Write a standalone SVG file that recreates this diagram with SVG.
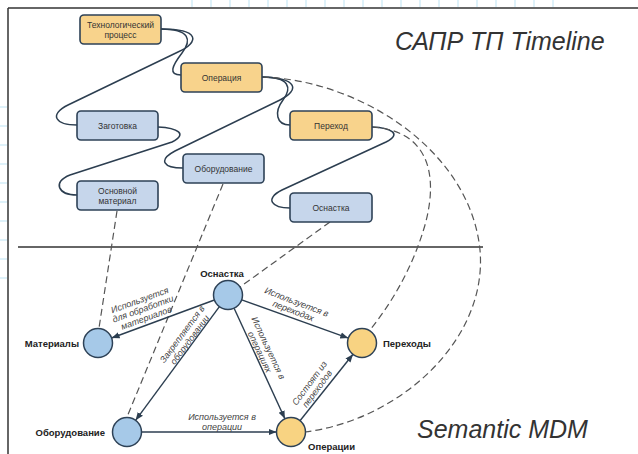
<svg xmlns="http://www.w3.org/2000/svg" width="638" height="454" viewBox="0 0 638 454">
<style>
.box{stroke:#2E4257;stroke-width:1.6}
.orange{fill:#F8D38C}
.blue{fill:#C6D6EB}
.ctext{font-family:"Liberation Sans",Arial,sans-serif;font-size:8.5px;fill:#333;text-anchor:middle}
.circ{stroke:#2E4257;stroke-width:1.5}
.cblue{fill:#A6C9E8}
.corange{fill:#F8D382}
.clabel{font-family:"Liberation Sans",Arial,sans-serif;font-size:9.5px;font-weight:bold;fill:#222}
.elabel{font-family:"Liberation Sans",Arial,sans-serif;font-size:9px;font-style:italic;fill:#444;text-anchor:middle}
.curve{fill:none;stroke:#2C3E50;stroke-width:1.5}
.dash{fill:none;stroke:#555;stroke-width:1.2;stroke-dasharray:7,4}
.edge{fill:none;stroke:#2C3E50;stroke-width:1.4;marker-end:url(#arr)}
.tick{stroke:#BDE3F3;stroke-width:1}
.title{font-family:"Liberation Sans",Arial,sans-serif;font-size:25px;font-style:italic;fill:#333}
</style>
<defs>
<marker id="arr" viewBox="0 0 10 10" refX="10" refY="5" markerWidth="8" markerHeight="8" markerUnits="userSpaceOnUse" orient="auto">
<path d="M0,1 L10,5 L0,9 z" fill="#2C3E50"/>
</marker>
</defs>
<rect width="638" height="454" fill="#fff"/>
<g id="grid">
<line class="tick" x1="192" y1="0" x2="192" y2="7"/><line class="tick" x1="211" y1="0" x2="211" y2="7"/><line class="tick" x1="230" y1="0" x2="230" y2="7"/><line class="tick" x1="249" y1="0" x2="249" y2="7"/><line class="tick" x1="268" y1="0" x2="268" y2="7"/><line class="tick" x1="287" y1="0" x2="287" y2="7"/><line class="tick" x1="306" y1="0" x2="306" y2="7"/><line class="tick" x1="325" y1="0" x2="325" y2="7"/><line class="tick" x1="344" y1="0" x2="344" y2="7"/><line class="tick" x1="363" y1="0" x2="363" y2="7"/><line class="tick" x1="382" y1="0" x2="382" y2="7"/><line class="tick" x1="401" y1="0" x2="401" y2="7"/><line class="tick" x1="420" y1="0" x2="420" y2="7"/><line class="tick" x1="439" y1="0" x2="439" y2="7"/><line class="tick" x1="458" y1="0" x2="458" y2="7"/><line class="tick" x1="477" y1="0" x2="477" y2="7"/><line class="tick" x1="496" y1="0" x2="496" y2="7"/><line class="tick" x1="515" y1="0" x2="515" y2="7"/><line class="tick" x1="534" y1="0" x2="534" y2="7"/><line class="tick" x1="553" y1="0" x2="553" y2="7"/>
<line class="tick" x1="0" y1="107" x2="7" y2="107"/><line class="tick" x1="0" y1="126" x2="7" y2="126"/><line class="tick" x1="0" y1="145" x2="7" y2="145"/><line class="tick" x1="0" y1="164" x2="7" y2="164"/><line class="tick" x1="0" y1="183" x2="7" y2="183"/><line class="tick" x1="0" y1="202" x2="7" y2="202"/><line class="tick" x1="0" y1="221" x2="7" y2="221"/><line class="tick" x1="0" y1="240" x2="7" y2="240"/><line class="tick" x1="0" y1="259" x2="7" y2="259"/><line class="tick" x1="0" y1="278" x2="7" y2="278"/>
</g>
<g id="frame" stroke="#333" stroke-width="1.5" fill="none">
<line x1="8" y1="8" x2="638" y2="8"/>
<line x1="8" y1="8" x2="8" y2="454"/>
<line x1="18" y1="247" x2="483" y2="247" stroke-width="1.3"/>
</g>
<text class="title" x="395" y="50">САПР ТП Timeline</text>
<text class="title" x="417" y="438">Semantic MDM</text>
<g id="connectors">
<path class="curve" d="M161,29 C190,29 192,40 182,53 C172,66 168,75 181,75"/>
<path class="curve" d="M161,29 C200,29 200,42 178,52 L68,105 C48,115 56,125 77,125"/>
<path class="curve" d="M262,77 C290,77 292,88 283,100 C274,112 276,125 290,125"/>
<path class="curve" d="M262,77 C298,78 300,90 280,100 L175,151 C158,160 163,168 183,168"/>
<path class="curve" d="M158,127 C178,128 188,134 172,142 L70,175 C52,182 58,195 77,195"/>
<path class="curve" d="M372,127 C392,128 402,134 386,142 L282,190 C264,199 272,208 290,208"/>
<path class="dash" d="M117,211 L99,328"/>
<path class="dash" d="M223,184 L127,417"/>
<path class="dash" d="M330,222 L240,287"/>
<path class="dash" d="M262,77 C360,80 470,150 480,250 C488,340 400,420 305,432"/>
<path class="dash" d="M372,127 C425,130 440,170 425,225 C412,270 390,305 370,330"/>
<path class="edge" d="M214.4,300 L111.6,338"/>
<path class="edge" d="M219.4,306.7 L135.6,420.3"/>
<path class="edge" d="M234.1,308.2 L284.9,418.8"/>
<path class="edge" d="M241.7,299.9 L348.3,338.1"/>
<path class="edge" d="M141.5,432 L276.5,432"/>
<path class="edge" d="M300,420.7 L353,354.3"/>
</g>
<g id="edge-labels">
<g transform="translate(143,309) rotate(-20)"><text class="elabel" x="0" y="-6.5">Используется</text><text class="elabel" x="0" y="3">для обработки</text><text class="elabel" x="0" y="12.5">материалов</text></g>
<g transform="translate(186,337) rotate(-53.5)"><text class="elabel" x="0" y="-1.75">Закрепляется в</text><text class="elabel" x="0" y="7.75">оборудовании</text></g>
<g transform="translate(264,350) rotate(65)"><text class="elabel" x="0" y="-1.75">Используется в</text><text class="elabel" x="0" y="7.75">операциях</text></g>
<g transform="translate(295,306.5) rotate(21)"><text class="elabel" x="0" y="-1.75">Используется в</text><text class="elabel" x="0" y="7.75">переходах</text></g>
<text class="elabel" x="222" y="420">Используется в</text><text class="elabel" x="222" y="430">операции</text>
<g transform="translate(313.4,386) rotate(-53.5)"><text class="elabel" x="0" y="-1.75">Состоят из</text><text class="elabel" x="0" y="7.75">переходов</text></g>
</g>
<g id="n-tp"><rect class="box orange" x="80" y="15" width="81" height="29" rx="4"/><text class="ctext" x="120.5" y="28">Технологический</text><text class="ctext" x="120.5" y="37.5">процесс</text></g>
<g id="n-op"><rect class="box orange" x="181" y="63" width="81" height="29" rx="4"/><text class="ctext" x="221.5" y="80.5">Операция</text></g>
<g id="n-zag"><rect class="box blue" x="77" y="111" width="81" height="29" rx="4"/><text class="ctext" x="117.5" y="128.5">Заготовка</text></g>
<g id="n-obor"><rect class="box blue" x="183" y="154" width="81" height="29" rx="4"/><text class="ctext" x="223.5" y="171.5">Оборудование</text></g>
<g id="n-mat"><rect class="box blue" x="77" y="181" width="81" height="29" rx="4"/><text class="ctext" x="117.5" y="194">Основной</text><text class="ctext" x="117.5" y="204">материал</text></g>
<g id="n-per"><rect class="box orange" x="290" y="111" width="82" height="29" rx="4"/><text class="ctext" x="331" y="128.5">Переход</text></g>
<g id="n-osn"><rect class="box blue" x="290" y="193" width="82" height="29" rx="4"/><text class="ctext" x="331" y="210.5">Оснастка</text></g>
<g id="c-osn"><circle class="circ cblue" cx="228" cy="295" r="14.5"/><text class="clabel" x="222" y="277" text-anchor="middle">Оснастка</text></g>
<g id="c-mat"><circle class="circ cblue" cx="98" cy="343" r="14.5"/><text class="clabel" x="79" y="347" text-anchor="end">Материалы</text></g>
<g id="c-obor"><circle class="circ cblue" cx="127" cy="432" r="14.5"/><text class="clabel" x="105" y="436" text-anchor="end">Оборудование</text></g>
<g id="c-op"><circle class="circ corange" cx="291" cy="432" r="14.5"/><text class="clabel" x="308" y="450">Операции</text></g>
<g id="c-per"><circle class="circ corange" cx="362" cy="343" r="14.5"/><text class="clabel" x="383" y="347">Переходы</text></g>
</svg>
